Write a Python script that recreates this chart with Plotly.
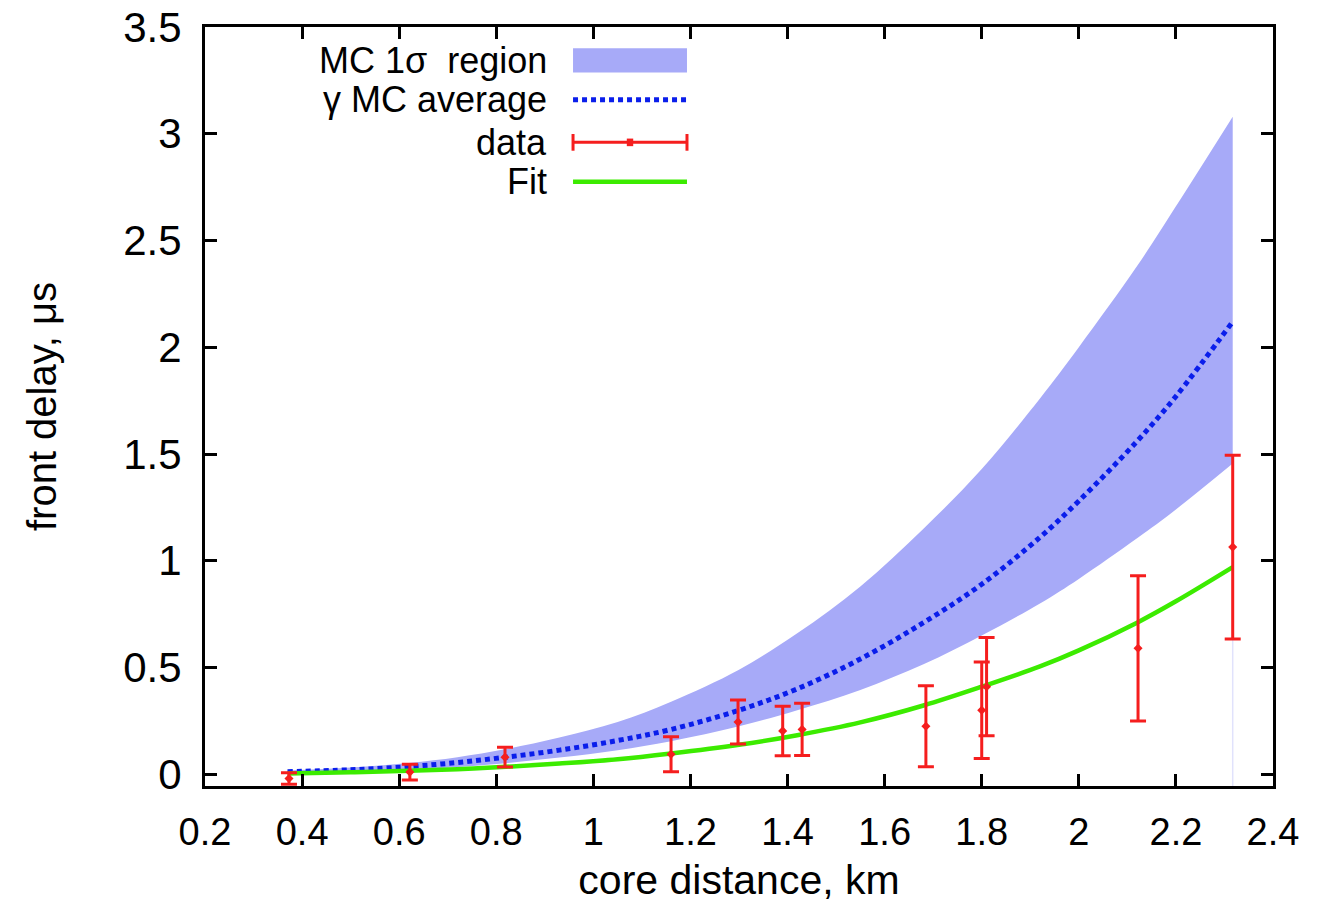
import plotly.graph_objects as go

# ---- data ----
curve_x = [0.37, 0.5, 0.62, 0.72, 0.82, 0.93, 1.05, 1.16, 1.3, 1.42, 1.55, 1.68, 1.8, 1.92, 2.0, 2.12, 2.2, 2.317]
mc_avg = [0.012, 0.021, 0.036, 0.055, 0.08, 0.113, 0.158, 0.21, 0.30, 0.40, 0.54, 0.71, 0.89, 1.11, 1.28, 1.56, 1.77, 2.12]
mc_upper = [0.018, 0.032, 0.053, 0.08, 0.118, 0.172, 0.245, 0.34, 0.49, 0.66, 0.88, 1.15, 1.43, 1.76, 2.00, 2.38, 2.66, 3.08]
mc_lower = [0.006, 0.012, 0.021, 0.034, 0.052, 0.078, 0.113, 0.155, 0.225, 0.30, 0.395, 0.515, 0.65, 0.80, 0.915, 1.105, 1.24, 1.455]
fit_y = [0.004, 0.009, 0.016, 0.024, 0.035, 0.05, 0.07, 0.097, 0.138, 0.183, 0.243, 0.322, 0.41, 0.505, 0.58, 0.71, 0.81, 0.97]

data_x = [0.373, 0.622, 0.818, 1.16, 1.298, 1.39, 1.43, 1.685, 1.80, 1.81, 2.122, 2.317]
data_y = [-0.02, 0.01, 0.08, 0.094, 0.245, 0.203, 0.21, 0.225, 0.30, 0.41, 0.59, 1.064]
data_err = [0.027, 0.037, 0.046, 0.082, 0.103, 0.116, 0.122, 0.19, 0.226, 0.23, 0.34, 0.43]

x_ticks = [0.2, 0.4, 0.6, 0.8, 1.0, 1.2, 1.4, 1.6, 1.8, 2.0, 2.2, 2.4]
x_tick_text = ["0.2", "0.4", "0.6", "0.8", "1", "1.2", "1.4", "1.6", "1.8", "2", "2.2", "2.4"]
y_ticks = [0, 0.5, 1, 1.5, 2, 2.5, 3, 3.5]
y_tick_text = ["0", "0.5", "1", "1.5", "2", "2.5", "3", "3.5"]

legend_labels = ["MC 1\u03c3  region", "\u03b3 MC average", "data", "Fit"]

BAND = "rgb(167,170,248)"
BLUE = "rgb(10,30,235)"
RED = "rgb(245,30,30)"
GREEN = "rgb(60,235,0)"
FONT = "Liberation Sans, Arial, Helvetica, sans-serif"

fig = go.Figure()

# faint vertical edge of the band
fig.add_trace(go.Scatter(x=[curve_x[-1], curve_x[-1]], y=[-0.06, mc_lower[-1]], mode="lines",
                         line=dict(color="rgb(225,226,252)", width=1.5), showlegend=False, hoverinfo="skip"))
# band
fig.add_trace(go.Scatter(x=curve_x, y=mc_lower, mode="lines", line=dict(width=0, shape="spline", smoothing=1.0),
                         showlegend=False, hoverinfo="skip"))
fig.add_trace(go.Scatter(x=curve_x, y=mc_upper, mode="lines", line=dict(width=0, shape="spline", smoothing=1.0),
                         fill="tonexty", fillcolor=BAND, showlegend=False, name=legend_labels[0]))
# MC average
fig.add_trace(go.Scatter(x=curve_x, y=mc_avg, mode="lines",
                         line=dict(color=BLUE, width=5, dash="5px,4px", shape="spline", smoothing=1.0),
                         showlegend=False, name=legend_labels[1]))
# Fit
fig.add_trace(go.Scatter(x=curve_x, y=fit_y, mode="lines",
                         line=dict(color=GREEN, width=4.5, shape="spline", smoothing=1.0),
                         showlegend=False, name=legend_labels[3]))
# data
fig.add_trace(go.Scatter(x=data_x, y=data_y, mode="markers",
                         marker=dict(color=RED, size=7, symbol="diamond"),
                         error_y=dict(type="data", array=data_err, visible=True, color=RED, thickness=3, width=8),
                         showlegend=False, name=legend_labels[2]))

# ---- manual gnuplot-style key (text right-aligned, sample on the right) ----
x0, x1 = 0.3446, 0.4513
text_rows = [0.956, 0.904, 0.848, 0.796]
samp_rows = [0.956, 0.904, 0.848, 0.796]
for lab, yy in zip(legend_labels, text_rows):
    fig.add_annotation(x=0.322, y=yy, xref="paper", yref="paper", text=lab, showarrow=False,
                       xanchor="right", yanchor="middle", font=dict(family=FONT, size=36, color="black"))
shapes = []
shapes.append(dict(type="rect", xref="paper", yref="paper", x0=x0, x1=x1, y0=samp_rows[0] - 0.016,
                   y1=samp_rows[0] + 0.016, fillcolor=BAND, line=dict(width=0)))
shapes.append(dict(type="line", xref="paper", yref="paper", x0=x0, x1=x1, y0=samp_rows[1], y1=samp_rows[1],
                   line=dict(color=BLUE, width=5, dash="5px,4px")))
shapes.append(dict(type="line", xref="paper", yref="paper", x0=x0, x1=x1, y0=samp_rows[2], y1=samp_rows[2],
                   line=dict(color=RED, width=3)))
for xc in (x0, x1):
    shapes.append(dict(type="line", xref="paper", yref="paper", x0=xc, x1=xc, y0=samp_rows[2] - 0.011,
                       y1=samp_rows[2] + 0.011, line=dict(color=RED, width=3)))
xm = (x0 + x1) / 2
shapes.append(dict(type="rect", xref="paper", yref="paper", x0=xm - 0.003, x1=xm + 0.003,
                   y0=samp_rows[2] - 0.005, y1=samp_rows[2] + 0.005, fillcolor=RED, line=dict(width=0)))
shapes.append(dict(type="line", xref="paper", yref="paper", x0=x0, x1=x1, y0=samp_rows[3], y1=samp_rows[3],
                   line=dict(color=GREEN, width=4.5)))

fig.update_layout(
    width=1332, height=909,
    margin=dict(l=205, r=59, t=27, b=123),
    paper_bgcolor="white", plot_bgcolor="white",
    shapes=shapes,
    showlegend=False,
    font=dict(family=FONT, color="black"),
)
fig.update_xaxes(range=[0.2, 2.4], tickvals=x_ticks, ticktext=x_tick_text, ticks="inside", ticklen=12,
                 tickwidth=2.5, tickcolor="black", showline=True, linecolor="black", linewidth=3, mirror="ticks",
                 showgrid=False, zeroline=False, tickfont=dict(size=38, family=FONT), ticklabelstandoff=10,
                 automargin=False,
                 title=dict(text="core distance, km", font=dict(size=41, family=FONT), standoff=14))
fig.update_yaxes(range=[-0.055, 3.5], tickvals=y_ticks, ticktext=y_tick_text, ticks="inside", ticklen=12,
                 tickwidth=2.5, tickcolor="black", showline=True, linecolor="black", linewidth=3, mirror="ticks",
                 showgrid=False, zeroline=False, tickfont=dict(size=42, family=FONT), ticklabelstandoff=12,
                 automargin=False,
                 title=dict(text="front delay, \u03bcs", font=dict(size=40, family=FONT), standoff=55))

fig.write_html("out.html")
